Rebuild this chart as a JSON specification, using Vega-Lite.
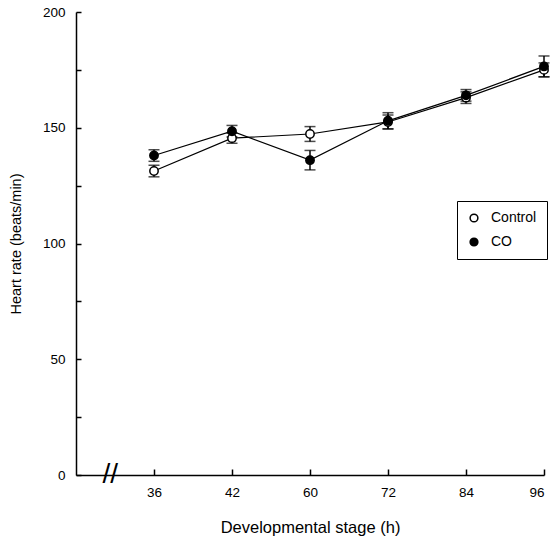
{
  "$schema": "https://vega.github.io/schema/vega-lite/v6.json",
  "width": 468,
  "height": 463,
  "autosize": "none",
  "padding": {"left": 76, "top": 12, "right": 6, "bottom": 67},
  "background": "white",
  "config": {
    "view": {"stroke": null},
    "font": "Liberation Sans",
    "axis": {"grid": false, "domainColor": "black", "domainWidth": 1.5, "tickColor": "black", "tickWidth": 1.5, "labelColor": "black", "titleColor": "black", "labelFont": "Liberation Sans", "titleFont": "Liberation Sans", "labelFontSize": 13.5, "titleFontWeight": "normal"}
  },
  "datasets": {
    "hr": [
      {"stage": "36", "idx": 0, "group": "Control", "hr": 131.3, "err": 2.5},
      {"stage": "42", "idx": 1, "group": "Control", "hr": 145.5, "err": 2.2},
      {"stage": "60", "idx": 2, "group": "Control", "hr": 147.3, "err": 3.2},
      {"stage": "72", "idx": 3, "group": "Control", "hr": 152.5, "err": 3.0},
      {"stage": "84", "idx": 4, "group": "Control", "hr": 163.0, "err": 2.5},
      {"stage": "96", "idx": 5, "group": "Control", "hr": 175.0, "err": 3.0},
      {"stage": "36", "idx": 0, "group": "CO", "hr": 138.0, "err": 2.5},
      {"stage": "42", "idx": 1, "group": "CO", "hr": 148.5, "err": 2.5},
      {"stage": "60", "idx": 2, "group": "CO", "hr": 136.0, "err": 4.2},
      {"stage": "72", "idx": 3, "group": "CO", "hr": 153.0, "err": 3.5},
      {"stage": "84", "idx": 4, "group": "CO", "hr": 164.0, "err": 2.5},
      {"stage": "96", "idx": 5, "group": "CO", "hr": 176.5, "err": 4.5}
    ],
    "brk": [{"idx": -0.56, "hr": 0, "t": "//"}]
  },
  "resolve": {"axis": {"x": "independent", "y": "independent"}},
  "layer": [
    {
      "data": {"name": "hr"},
      "mark": {"type": "line", "color": "black", "strokeWidth": 1.2},
      "encoding": {
        "x": {"field": "idx", "type": "quantitative", "scale": {"domain": [-1, 5], "nice": false, "zero": false},
          "axis": {"orient": "bottom", "values": [0, 1, 2, 3, 4, 5], "labelExpr": "['36','42','60','72','84','96'][datum.value]", "ticks": false, "labelPadding": 10, "title": "Developmental stage (h)", "titleFontSize": 16.5, "titlePadding": 21}},
        "y": {"field": "hr", "type": "quantitative", "scale": {"domain": [0, 200], "nice": false},
          "axis": {"orient": "left", "values": [0, 50, 100, 150, 200], "ticks": false, "labelPadding": 11, "title": "Heart rate (beats/min)", "titleFontSize": 14.5, "titlePadding": 19}},
        "detail": {"field": "group"}
      }
    },
    {
      "data": {"name": "hr"},
      "mark": {"type": "errorbar", "ticks": {"size": 11, "thickness": 1.5, "color": "black"}, "rule": {"color": "black", "strokeWidth": 1.5}},
      "encoding": {
        "x": {"field": "idx", "type": "quantitative",
          "axis": {"orient": "top", "offset": -463, "values": [0, 1, 2, 3, 4, 5], "labels": false, "domain": false, "tickSize": 6, "title": null}},
        "y": {"field": "hr", "type": "quantitative",
          "axis": {"orient": "right", "offset": -468, "values": [0, 25, 50, 75, 100, 125, 150, 175, 200], "labels": false, "domain": false, "tickSize": 5, "title": null}},
        "yError": {"field": "err"},
        "detail": {"field": "group"}
      }
    },
    {
      "data": {"name": "hr"},
      "mark": {"type": "point", "shape": "circle", "filled": true, "stroke": "black", "strokeWidth": 1.5, "size": 70, "opacity": 1},
      "encoding": {
        "x": {"field": "idx", "type": "quantitative", "axis": null},
        "y": {"field": "hr", "type": "quantitative", "axis": null},
        "fill": {"field": "group", "type": "nominal", "scale": {"domain": ["Control", "CO"], "range": ["white", "black"]},
          "legend": {"title": null, "orient": "none", "legendX": 381, "legendY": 189, "strokeColor": "black", "padding": 10, "rowPadding": 10, "symbolStrokeColor": "black", "symbolStrokeWidth": 1.5, "symbolSize": 60, "labelFontSize": 14, "labelFont": "Liberation Sans", "labelColor": "black", "labelOffset": 10, "fillColor": "white"}}
      }
    },
    {
      "data": {"name": "brk"},
      "mark": {"type": "text", "fontSize": 28, "color": "black", "font": "Liberation Sans", "baseline": "middle", "align": "center"},
      "encoding": {
        "x": {"field": "idx", "type": "quantitative", "axis": null},
        "y": {"field": "hr", "type": "quantitative", "axis": null},
        "text": {"field": "t"}
      }
    }
  ]
}
